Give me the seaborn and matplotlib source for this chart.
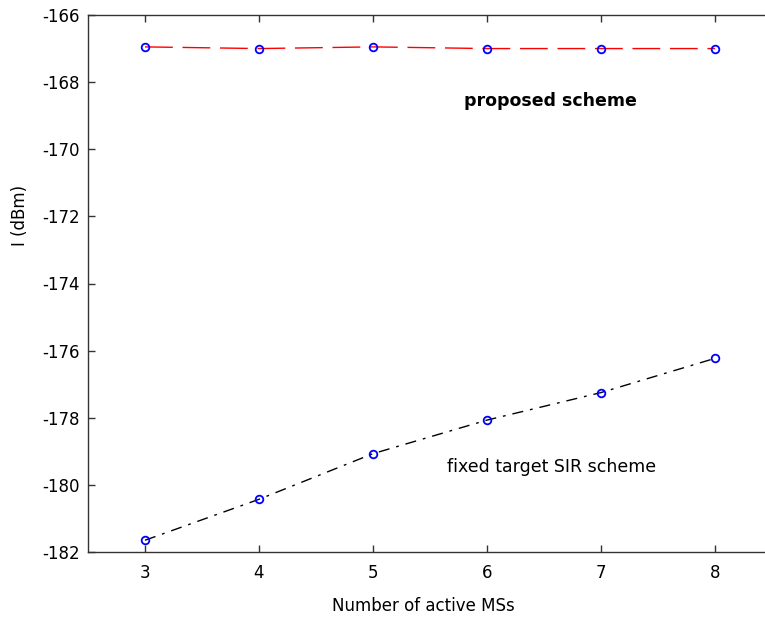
import matplotlib
matplotlib.use("Agg")
import matplotlib.pyplot as plt
import seaborn as sns
import pandas as pd

# Interference level versus number of active mobile stations
num_ms = [3, 4, 5, 6, 7, 8]
proposed_dbm = [-166.95, -167.0, -166.95, -167.0, -167.0, -167.0]
fixed_sir_dbm = [-181.65, -180.43, -179.07, -178.07, -177.25, -176.23]
y_ticks = [-182, -180, -178, -176, -174, -172, -170, -168, -166]

sns.set_theme(style="ticks")
plt.rcParams["font.family"] = ["DejaVu Sans"]
plt.rcParams["axes.unicode_minus"] = False
plt.rcParams["text.color"] = "black"
plt.rcParams["axes.labelcolor"] = "black"

df_prop = pd.DataFrame({"ms": num_ms, "I": proposed_dbm})
df_fix = pd.DataFrame({"ms": num_ms, "I": fixed_sir_dbm})

fig = plt.figure(figsize=(7.65, 6.21), dpi=100)
ax = fig.add_axes([88 / 765, 69 / 621, 684 / 765, 537 / 621])

sns.lineplot(data=df_prop, x="ms", y="I", ax=ax, color="#ff0000", lw=1.0,
             linestyle=(0, (20, 7)))
sns.lineplot(data=df_fix, x="ms", y="I", ax=ax, color="black", lw=1.0,
             linestyle=(0, (8, 5, 2, 5)))
for d in (df_prop, df_fix):
    ax.plot(d["ms"], d["I"], linestyle="none", marker="o", markersize=5.5,
            markerfacecolor="none", markeredgecolor="#0000ff", markeredgewidth=1.3)

ax.text(6.56, -168.56, "proposed scheme", fontsize=12.5, fontweight="bold",
        ha="center", va="center", color="black")
ax.text(6.57, -179.47, "fixed target SIR scheme", fontsize=12.5,
        ha="center", va="center", color="black")

ax.set_xlim(2.5, 8.5)
ax.set_ylim(-182, -166)
ax.set_xticks(num_ms)
ax.set_yticks(y_ticks)
ax.set_xlabel("Number of active MSs", fontsize=12, va="center")
ax.set_ylabel("I (dBm)", fontsize=12, va="center")
ax.xaxis.set_label_coords(0.49, -0.1006)
ax.yaxis.set_label_coords(-0.0994, 0.626)
ax.tick_params(direction="in", length=5, width=1, top=True, right=True,
               labelsize=12, colors="#333333", labelcolor="black")
ax.tick_params(axis="x", pad=9)
ax.tick_params(axis="y", pad=6)
for s in ax.spines.values():
    s.set_visible(True)
    s.set_linewidth(1.0)
    s.set_color("#333333")

fig.savefig("out.png", dpi=100)
